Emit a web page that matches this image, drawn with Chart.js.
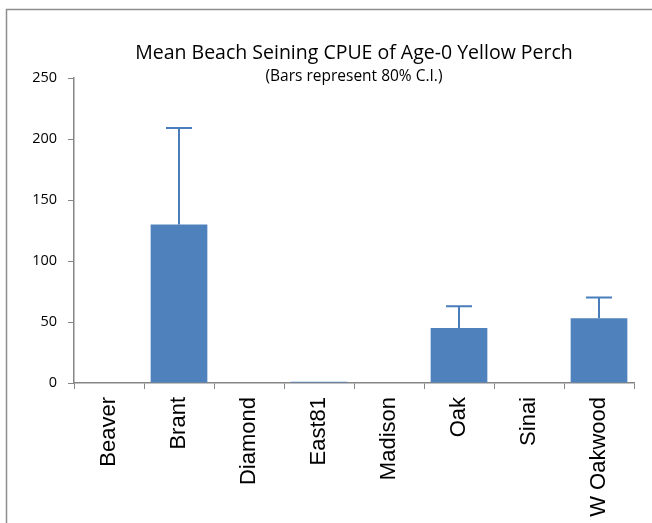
<!DOCTYPE html>
<html>
<head>
<meta charset="utf-8">
<script src="https://cdn.jsdelivr.net/npm/chart.js@4/dist/chart.umd.min.js"></script>
<style>
  body { margin: 0; background: #fff; }
</style>
</head>
<body>
<canvas id="cpueChart" width="652" height="523"></canvas>
<script>
const categories = ["Beaver", "Brant", "Diamond", "East81", "Madison", "Oak", "Sinai", "W Oakwood"];
const meanCpue = [0, 130, 0, 1, 0, 45, 0, 53];
const upperCi = [0, 209, 0, 1, 0, 63, 0, 70];
const yTicks = [0, 50, 100, 150, 200, 250];

const axisGray = "#868686";
const barBlue = "#4f81bd";

// outer chart frame, like the excel chart border
const framePlugin = {
  id: "frame",
  beforeDraw(chart) {
    const ctx = chart.ctx;
    ctx.save();
    ctx.fillStyle = "#fff";
    ctx.fillRect(0, 0, chart.width, chart.height);
    ctx.strokeStyle = "#8e8e8e";
    ctx.lineWidth = 1.5;
    ctx.strokeRect(6.5, 9.5, chart.width + 20, chart.height + 20);
    ctx.restore();
  },
};

// upper-only error bars
const errorBarPlugin = {
  id: "errorBars",
  afterDatasetsDraw(chart) {
    const ctx = chart.ctx;
    const x = chart.scales.x;
    const y = chart.scales.y;
    ctx.save();
    ctx.strokeStyle = "#4a7ebb";
    ctx.lineWidth = 2;
    upperCi.forEach((hi, i) => {
      if (hi <= meanCpue[i]) return;
      const cx = x.getPixelForValue(i);
      const top = y.getPixelForValue(hi);
      const base = y.getPixelForValue(meanCpue[i]);
      ctx.beginPath();
      ctx.moveTo(cx, base);
      ctx.lineTo(cx, top);
      ctx.moveTo(cx - 13, top);
      ctx.lineTo(cx + 13, top);
      ctx.stroke();
    });
    ctx.restore();
  },
};

new Chart(document.getElementById("cpueChart"), {
  type: "bar",
  data: {
    labels: categories,
    datasets: [
      {
        label: "Mean CPUE",
        data: meanCpue,
        backgroundColor: barBlue,
        borderWidth: 0,
        barPercentage: 0.81,
        categoryPercentage: 1,
      },
    ],
  },
  options: {
    responsive: false,
    animation: false,
    layout: { padding: { left: 0, right: 18, top: 0, bottom: 0 } },
    plugins: {
      legend: { display: false },
      tooltip: { enabled: false },
      title: {
        display: true,
        fullSize: false,
        text: "Mean Beach Seining CPUE of Age-0 Yellow Perch",
        color: "#000",
        font: { family: "Open Sans", size: 19.5, weight: "normal", lineHeight: 1.2 },
        padding: { top: 42, bottom: 0 },
      },
      subtitle: {
        display: true,
        fullSize: false,
        text: "(Bars represent 80% C.I.)",
        color: "#000",
        font: { family: "Open Sans", size: 15.5, lineHeight: 1.2 },
        padding: { top: 2, bottom: -8 },
      },
    },
    scales: {
      x: {
        offset: true,
        grid: {
          offset: true,
          drawOnChartArea: false,
          drawTicks: true,
          tickLength: 6,
          color: axisGray,
        },
        border: { color: axisGray, width: 1.5 },
        ticks: {
          color: "#000",
          font: { family: "Liberation Sans", size: 22 },
          minRotation: 90,
          maxRotation: 90,
          padding: 8,
          autoSkip: false,
        },
        afterFit(scale) {
          scale.height = 140;
        },
      },
      y: {
        min: 0,
        max: 250,
        afterBuildTicks(scale) {
          scale.ticks = yTicks.map((v) => ({ value: v }));
        },
        grid: {
          drawOnChartArea: false,
          drawTicks: true,
          tickLength: 6,
          color: axisGray,
        },
        border: { color: axisGray, width: 1.5 },
        ticks: {
          color: "#000",
          font: { family: "Open Sans", size: 14.5 },
          padding: 11,
        },
        afterFit(scale) {
          scale.width = 74;
        },
      },
    },
  },
  plugins: [framePlugin, errorBarPlugin],
});
</script>
</body>
</html>
